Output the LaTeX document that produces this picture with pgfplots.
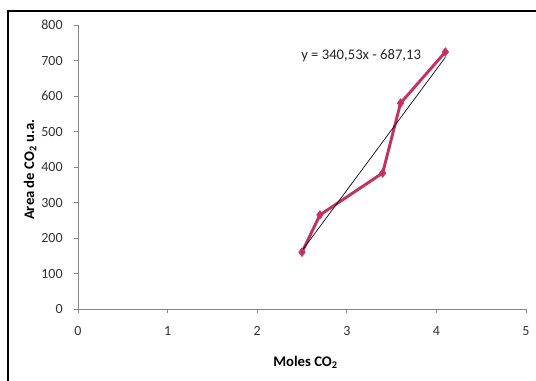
\documentclass[border=0pt]{standalone}
\usepackage{fontspec}
\setmainfont{Carlito}
\usepackage{pgfplots}
\pgfplotsset{compat=1.18}
\definecolor{serie}{HTML}{C4335F}
\definecolor{axgray}{HTML}{868686}
\begin{document}
\begin{tikzpicture}
\path[use as bounding box] (0,0) rectangle (402pt,285pt);
\draw[line width=1pt] (6pt,-5pt) -- (6pt,276.75pt) -- (410pt,276.75pt);
\begin{axis}[
  at={(58.5pt,53.25pt)}, anchor=south west,
  scale only axis, width=336pt, height=213pt,
  xmin=0, xmax=5, ymin=0, ymax=800,
  xtick={0,1,2,3,4,5}, ytick={0,100,...,800},
  axis x line*=bottom, axis y line*=left,
  axis line style={axgray, line width=0.6pt},
  tick style={axgray, line width=0.6pt},
  tick align=outside, major tick length=3pt,
  x axis line style={-}, y axis line style={-},
  /pgf/number format/assume math mode=true,
  tick label style={font=\fontsize{10.5}{12}\selectfont, text=black!80},
  xticklabel style={yshift=-6.5pt},
  yticklabel style={xshift=-5pt},
  xlabel={\textbf{Moles CO\textsubscript{2}}},
  ylabel={\textbf{Area de CO\textsubscript{2} u.a.}},
  label style={font=\fontsize{11}{13}\selectfont},
  xlabel style={at={(axis description cs:0.508,-0.187)}, anchor=center},
  ylabel style={at={(axis description cs:-0.107,0.49)}, anchor=center},
  clip=false,
]
\addplot[color=serie, line width=2.2pt, mark=diamond*, mark size=3.2pt, mark options={line width=0.5pt}]
  coordinates {(2.5,160) (2.7,265) (3.4,383) (3.6,580) (4.1,724)};
\addplot[black, line width=0.5pt] coordinates {(2.5,164.2) (4.1,709.0)};
\node[font=\fontsize{11}{13}\selectfont, text=black!85] at (axis cs:3.16,715) {y = 340,53x - 687,13};
\end{axis}
\end{tikzpicture}
\end{document}
